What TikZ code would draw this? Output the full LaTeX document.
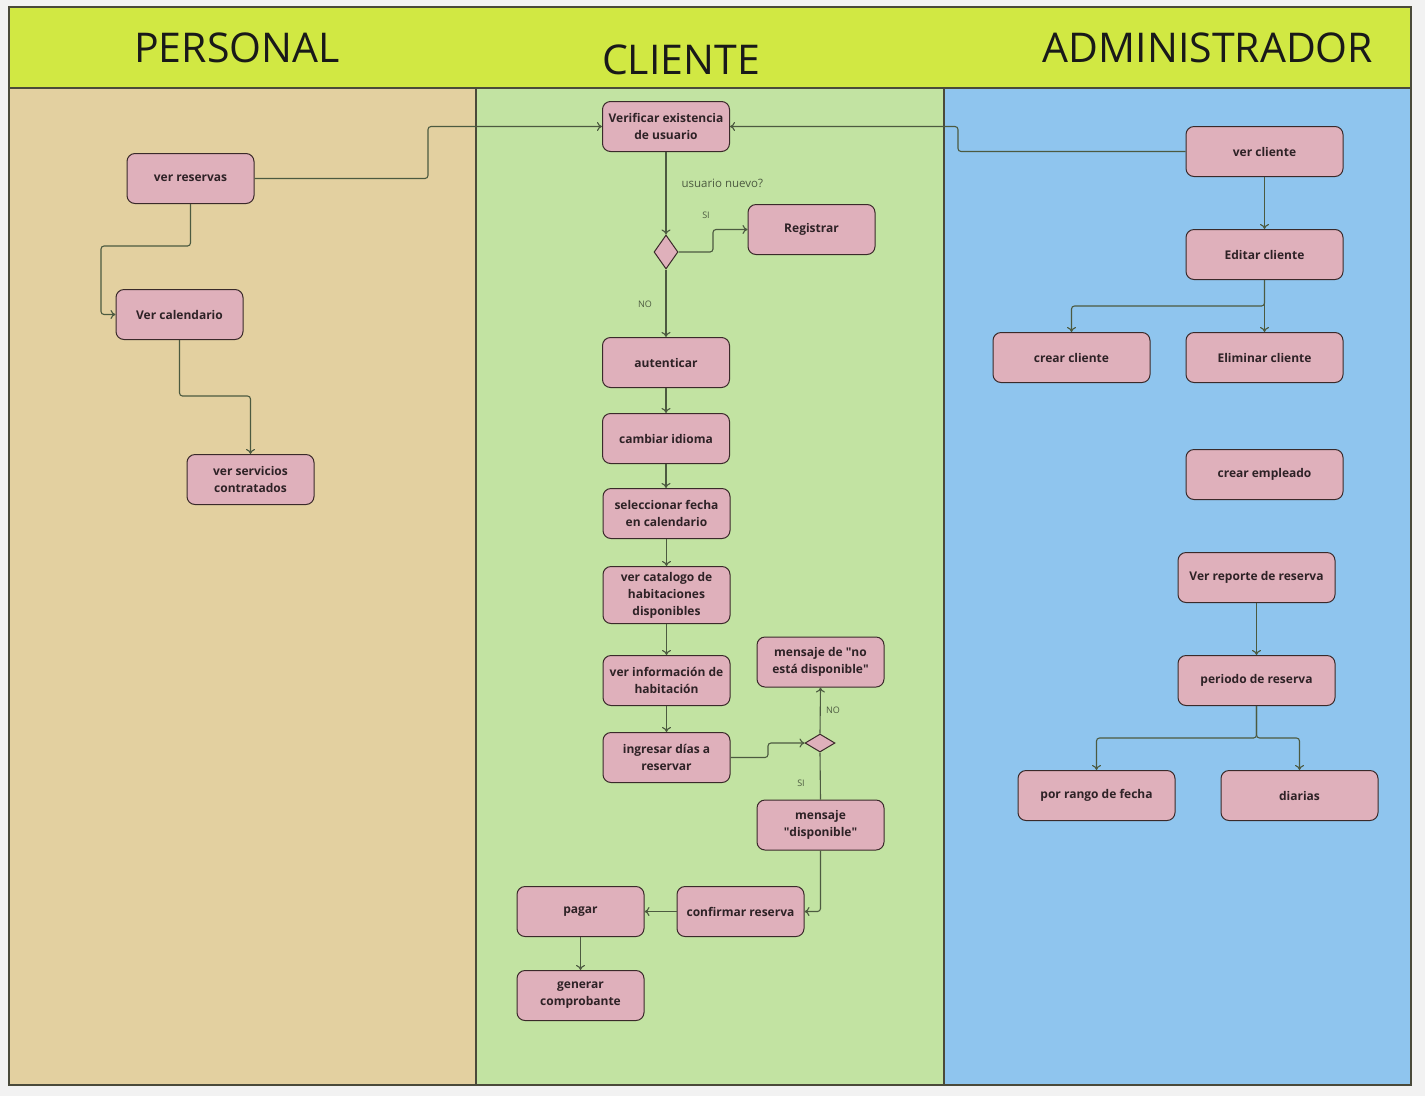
\documentclass[tikz,border=0pt]{standalone}
\usepackage{fontspec}
\setmainfont{Open Sans}
\usetikzlibrary{shapes.geometric,arrows.meta}
\definecolor{bgc}{HTML}{F2F2F2}
\definecolor{headc}{HTML}{D1E843}
\definecolor{persc}{HTML}{E3D0A0}
\definecolor{clic}{HTML}{C2E3A2}
\definecolor{admc}{HTML}{8FC5EE}
\definecolor{boxc}{HTML}{DFB0BB}
\definecolor{boxb}{HTML}{3A2A2A}
\definecolor{framec}{HTML}{4A4A3A}
\definecolor{linec}{HTML}{4C5A40}
\definecolor{txtc}{HTML}{2E2226}
\begin{document}
\begin{tikzpicture}[x=1pt,y=-1pt,
  act/.style={draw=boxb,fill=boxc,rounded corners=8pt,line width=1pt,
    minimum width=127pt,minimum height=50pt,inner sep=2pt,align=center,
    font=\fontsize{12}{17}\selectfont\bfseries,text=txtc},
  wide/.style={act,minimum width=157pt},
  dec/.style={draw=boxb,fill=boxc,shape=diamond,line width=1pt,inner sep=0pt},
  conn/.style={draw=linec,line width=1.1pt,rounded corners=3pt},
  arr/.style={conn,-{To[length=5pt,width=9pt]}},
  lab/.style={font=\fontsize{9}{10}\selectfont,text=linec},
  head/.style={font=\fontsize{41}{45}\selectfont,text=black!90}
]
\useasboundingbox (0,0) rectangle (1425,1096);
\fill[bgc] (0,0) rectangle (1425,1096);
% lanes
\fill[headc] (9,7) rectangle (1411,88);
\fill[persc] (9,88) rectangle (476,1085);
\fill[clic] (476,88) rectangle (944,1085);
\fill[admc] (944,88) rectangle (1411,1085);
\draw[framec,line width=1.5pt] (9,7) rectangle (1411,1085);
\draw[framec,line width=1.5pt] (9,88) -- (1411,88);
\draw[framec,line width=1.5pt] (476,88) -- (476,1085);
\draw[framec,line width=1.5pt] (944,88) -- (944,1085);
\node[head] (hp) at (237,48) {PERSONAL};
\node[head] (hc) at (681,60) {CLIENTE};
\node[head] (ha) at (1208,48) {ADMINISTRADOR};

% PERSONAL
\node[act] (vres) at (190.5,178.5) {ver reservas};
\node[act] (vcal) at (179.5,314.5) {Ver calendario};
\node[act] (vserv) at (250.5,479.5) {ver servicios\\contratados};

% CLIENTE
\node[act] (verif) at (666,126.5) {Verificar existencia\\de usuario};
\node[act] (reg) at (811.5,229.5) {Registrar};
\node[dec,minimum width=24pt,minimum height=34pt] (d1) at (666,252) {};
\node[act] (aut) at (666,362.5) {autenticar};
\node[act] (idi) at (666,438.5) {cambiar idioma};
\node[act] (fecha) at (666.5,513.5) {seleccionar fecha\\en calendario};
\node[act,minimum height=57pt] (cat) at (666.5,595) {ver catalogo de\\habitaciones\\disponibles};
\node[act] (info) at (666.5,680.5) {ver información de\\habitación};
\node[act] (dias) at (666.5,757.5) {ingresar días a\\reservar};
\node[dec,minimum width=30pt,minimum height=18pt] (d2) at (820,743) {};
\node[act] (nodisp) at (820.5,662) {mensaje de \textquotedbl no\\está disponible\textquotedbl};
\node[act] (disp) at (820.5,825) {mensaje\\\textquotedbl disponible\textquotedbl};
\node[act] (conf) at (740.5,911.5) {confirmar reserva};
\node[act] (pagar) at (580.5,911.5) {pagar};
\node[act] (comp) at (580.5,995.5) {generar\\comprobante};

% ADMIN
\node[wide] (vcli) at (1264.5,151.5) {ver cliente};
\node[wide] (ecli) at (1264.5,254.5) {Editar cliente};
\node[wide] (ccli) at (1071.5,357.5) {crear cliente};
\node[wide] (elcli) at (1264.5,357.5) {Eliminar cliente};
\node[wide] (cemp) at (1264.5,474.5) {crear empleado};
\node[wide] (vrep) at (1256.5,577.5) {Ver reporte de reserva};
\node[wide] (per) at (1256.5,680.5) {periodo de reserva};
\node[wide] (rango) at (1096.5,795.5) {por rango de fecha};
\node[wide] (diar) at (1299.5,795.5) {diarias};

% labels
\node[font=\fontsize{11.5}{12}\selectfont,text=linec,anchor=west] (lq) at (678,183) {usuario nuevo?};
\node[lab] (lsi1) at (706,215) {SI};
\node[lab] (lno1) at (645,304) {NO};
\node[lab] (lno2) at (833,710) {NO};
\node[lab] (lsi2) at (801,783) {SI};

% connectors
\draw[arr] (vres.east) -- (428,178.5) -- (428,126.5) -- (verif.west);
\draw[arr] (vcli.west) -- (958,151.5) -- (958,126.5) -- (verif.east);
\draw[arr] (vres.south) -- (190.5,246) -- (101,246) -- (101,314.5) -- (vcal.west);
\draw[arr] (vcal.south) -- (179.5,396) -- (250.5,396) -- (vserv.north);
\draw[arr] (verif.south) -- (d1.north);
\draw[arr] (d1.east) -- (713,252) -- (713,229.5) -- (reg.west);
\draw[arr] (d1.south) -- (aut.north);
\draw[arr] (aut.south) -- (idi.north);
\draw[arr] (idi.south) -- (idi.south |- fecha.north);
\draw[arr] (fecha.south) -- (cat.north);
\draw[arr] (cat.south) -- (info.north);
\draw[arr] (info.south) -- (dias.north);
\draw[arr] (dias.east) -- (768,757.5) -- (768,743) -- (d2.west);
\draw[arr] (d2.north) -- (nodisp.south);
\draw[conn] (d2.south) -- (disp.north);
\draw[arr] (disp.south) -- (820.5,911.5) -- (conf.east);
\draw[arr] (conf.west) -- (pagar.east);
\draw[arr] (pagar.south) -- (comp.north);
\draw[arr] (vcli.south) -- (ecli.north);
\draw[arr] (ecli.south) -- (1264.5,306) -- (1071.5,306) -- (ccli.north);
\draw[arr] (ecli.south) -- (elcli.north);
\draw[arr] (vrep.south) -- (per.north);
\draw[arr] (per.south) -- (1256.5,738) -- (1096.5,738) -- (rango.north);
\draw[arr] (per.south) -- (1256.5,738) -- (1299.5,738) -- (diar.north);
\end{tikzpicture}
\end{document}
